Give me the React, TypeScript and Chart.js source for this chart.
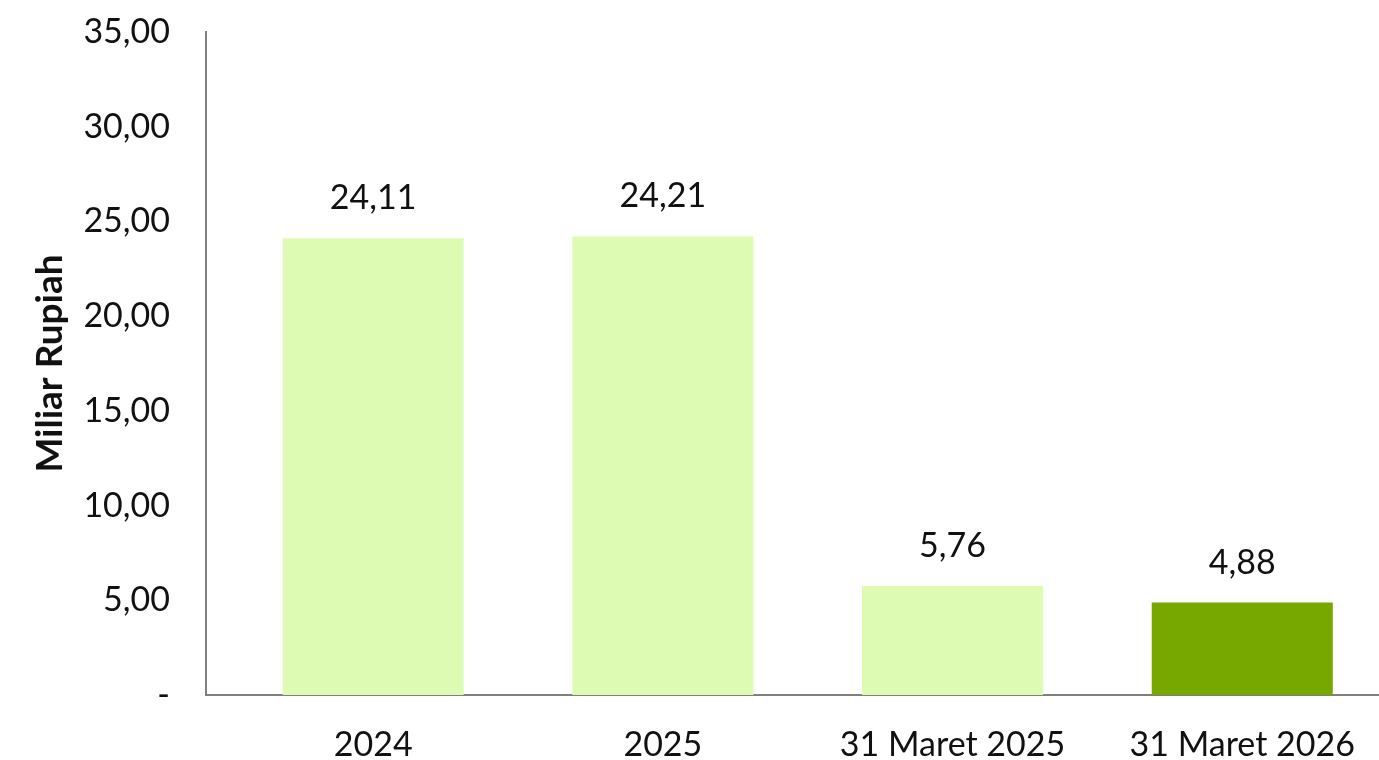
import React, { useEffect, useRef } from "react";
import { Chart, registerables } from "chart.js";

Chart.register(...registerables);

const categories: string[] = ["2024", "2025", "31 Maret 2025", "31 Maret 2026"];
const values: number[] = [24.11, 24.21, 5.76, 4.88];
const barColors: string[] = ["#DDFBB3", "#DDFBB3", "#DDFBB3", "#77A800"];
const yTicks: number[] = [0, 5, 10, 15, 20, 25, 30, 35];
const yTitle = "Miliar Rupiah";

const FONT = "Lato, 'Open Sans', sans-serif";

const fmt = (v: number) => (v === 0 ? "-" : v.toFixed(2).replace(".", ","));

const valueLabels = {
  id: "valueLabels",
  afterDatasetsDraw(chart: any) {
    const ctx = chart.ctx;
    const meta = chart.getDatasetMeta(0);
    ctx.save();
    ctx.font = `34px ${FONT}`;
    ctx.fillStyle = "#111";
    ctx.textAlign = "center";
    ctx.textBaseline = "middle";
    meta.data.forEach((el: any, i: number) => {
      ctx.fillText(fmt(values[i]), el.x, el.y - 40);
    });
    ctx.restore();
  },
};

export default function App() {
  const ref = useRef<HTMLCanvasElement | null>(null);
  useEffect(() => {
    if (!ref.current) return;
    const chart = new Chart(ref.current, {
      type: "bar",
      data: {
        datasets: [
          {
            data: values.map((v, i) => ({ x: i, y: v })),
            backgroundColor: barColors,
            borderWidth: 0,
            barPercentage: 0.625,
            categoryPercentage: 1,
          },
        ],
      },
      options: {
        responsive: true,
        maintainAspectRatio: false,
        animation: false,
        layout: { padding: { top: 32, right: 0, left: 0, bottom: 0 } },
        plugins: { legend: { display: false }, tooltip: { enabled: false } },
        scales: {
          x: {
            type: "linear",
            offset: false,
            min: -0.577,
            max: 3.472,
            grid: { display: false, drawTicks: false, offset: false },
            border: { display: true, color: "#7f7f7f", width: 2 },
            afterBuildTicks: (scale: any) => {
              scale.ticks = categories.map((_, i) => ({ value: i }));
            },
            afterFit: (scale: any) => {
              scale.height = 65;
              scale.paddingLeft = 0;
              scale.paddingRight = 0;
            },
            ticks: {
              autoSkip: false,
              maxRotation: 0,
              padding: 30,
              color: "#111",
              font: { family: FONT, size: 34 },
              callback: (v: any) => categories[v] ?? "",
            },
          },
          y: {
            min: 0,
            max: 35,
            grid: { display: false, drawTicks: false },
            border: { display: true, color: "#7f7f7f", width: 2 },
            afterBuildTicks: (scale: any) => {
              scale.ticks = yTicks.map((v) => ({ value: v }));
            },
            afterFit: (scale: any) => {
              scale.width = 206;
              scale.paddingTop = 0;
              scale.paddingBottom = 0;
            },
            ticks: {
              padding: 36,
              color: "#111",
              font: { family: FONT, size: 34 },
              callback: (v: any) => fmt(Number(v)),
            },
            title: {
              display: true,
              text: yTitle,
              color: "#111",
              font: { family: FONT, size: 37, weight: "bold" },
              padding: { top: 28, bottom: 0 },
            },
          },
        },
      },
      plugins: [valueLabels],
    });
    return () => chart.destroy();
  }, []);
  return (
    <div style={{ position: "fixed", left: 0, top: 0, width: "100vw", height: "100vh", background: "#fff" }}>
      <canvas ref={ref} />
    </div>
  );
}
